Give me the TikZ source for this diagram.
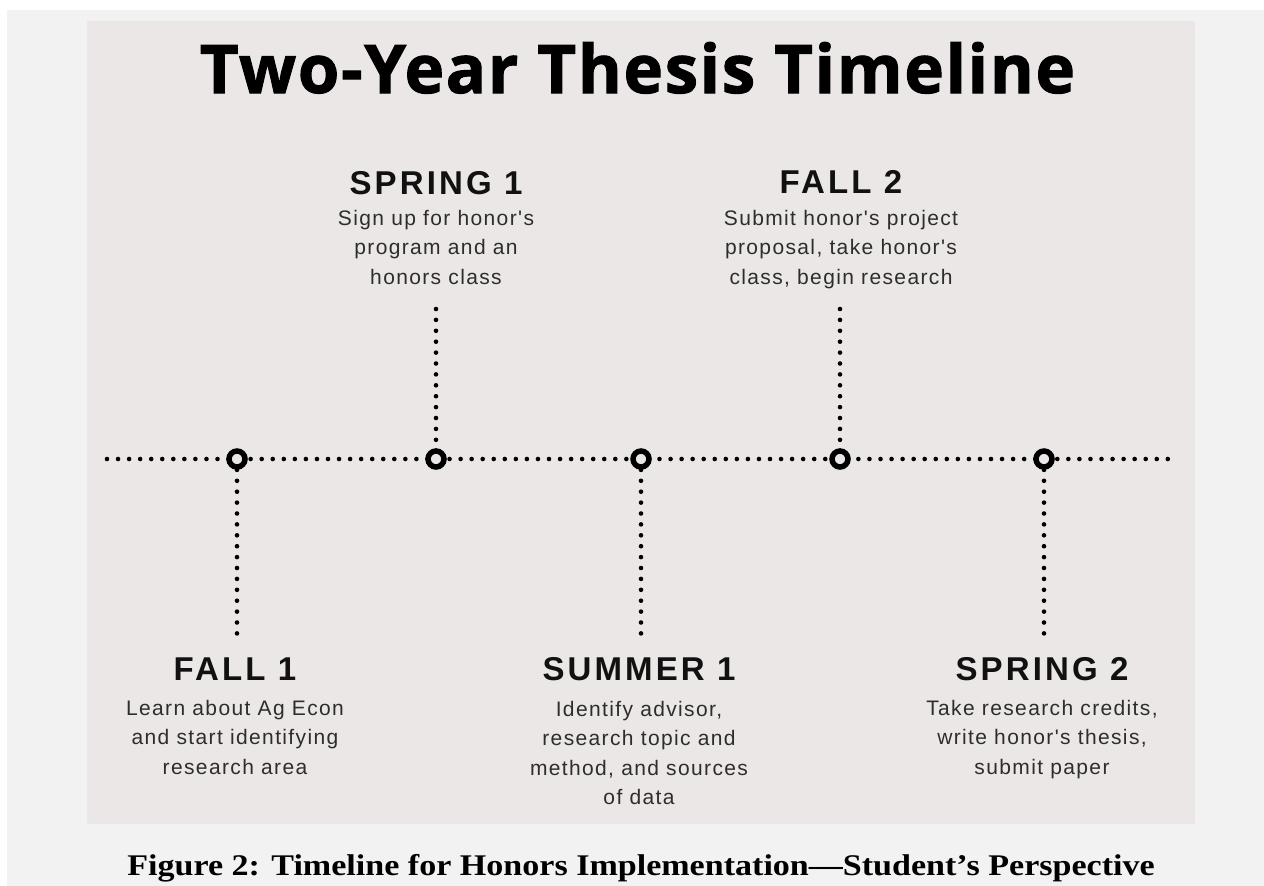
\documentclass[tikz,border=0pt]{standalone}
\usepackage{fontspec}
\setmainfont{Liberation Sans}
\newfontfamily\titlefont{Open Sans}[LetterSpace=2.5, BoldFeatures={FakeBold=1.5}]
\newfontfamily\headfont{Liberation Sans}[LetterSpace=9.5]
\newfontfamily\bodyfont{Liberation Sans}[LetterSpace=6.5]
\newfontfamily\capfont{Liberation Serif}
\definecolor{outerbg}{RGB}{242,242,242}
\definecolor{innerbg}{RGB}{235,231,230}
\definecolor{textgray}{RGB}{45,45,45}
\definecolor{headblack}{RGB}{17,17,17}
\tikzset{
  dotline/.style={line width=4.6pt, line cap=round, dash pattern=on 0pt off 11.05pt, black},
  vdotline/.style={line width=4.6pt, line cap=round, dash pattern=on 0pt off 10.9pt, black},
  ring/.style={circle, draw=black, line width=5.5pt, minimum size=16pt, inner sep=0pt, fill=innerbg},
  head/.style={font=\headfont\bfseries\fontsize{33}{40}\selectfont, text=headblack, inner sep=0pt, anchor=base},
  body/.style={font=\bodyfont\fontsize{21}{29.5}\selectfont, text=textgray, align=center, inner sep=0pt, anchor=north},
}
\begin{document}
\begin{tikzpicture}[x=1pt,y=-1pt]
\useasboundingbox (0,0) rectangle (1264,886);
\fill[white] (0,0) rectangle (1264,886);
\fill[outerbg] (7,10) rectangle (1264,886);
\fill[innerbg] (87,21) rectangle (1195,824);

\node[font=\titlefont\bfseries\fontsize{67}{80}\selectfont, inner sep=0pt, anchor=base] (title) at (637.5,93) {Two-Year Thesis Timeline};

% timeline
\coordinate (L) at (107,459);
\coordinate (R) at (1168,459);
\draw[dotline] (L) -- (R);

\coordinate (d1) at (237,633.5);
\coordinate (u2) at (436,309);
\coordinate (d3) at (641,633.5);
\coordinate (u4) at (840,309);
\coordinate (d5) at (1044,633.5);

\draw[vdotline] (237,459) -- (d1);
\draw[vdotline] (u2) -- (436,459);
\draw[vdotline] (641,459) -- (d3);
\draw[vdotline] (u4) -- (840,459);
\draw[vdotline] (1044,459) -- (d5);

\node[ring] (c1) at (237,459) {};
\node[ring] (c2) at (436,459) {};
\node[ring] (c3) at (641,459) {};
\node[ring] (c4) at (840,459) {};
\node[ring] (c5) at (1044,459) {};

% labels
\node[head] (h1) at (235,680) {FALL 1};
\node[body] (b1) at (235,700) {Learn about Ag Econ\\and start identifying\\research area};

\node[head] (h2) at (436,194) {SPRING 1};
\node[body] (b2) at (436,210) {Sign up for honor's\\program and an\\honors class};

\node[head] (h3) at (639,680) {SUMMER 1};
\node[body] (b3) at (639,701) {Identify advisor,\\research topic and\\method, and sources\\of data};

\node[head] (h4) at (841,193) {FALL 2};
\node[body] (b4) at (841,210) {Submit honor's project\\proposal, take honor's\\class, begin research};

\node[head] (h5) at (1042,680) {SPRING 2};
\node[body] (b5) at (1042,700) {Take research credits,\\write honor's thesis,\\submit paper};

\node[font=\capfont\bfseries\fontsize{30}{36}\selectfont, inner sep=0pt, anchor=base] (cap) at (641,875) {\scalebox{1.135}[1]{Figure 2: Timeline for Honors Implementation—Student’s Perspective}};
\end{tikzpicture}
\end{document}
